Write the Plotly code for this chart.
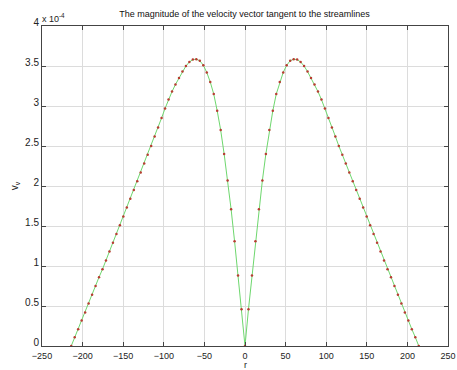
import plotly.graph_objects as go

# radial positions (r) of the sampled points
r = [-214.0, -209.72, -205.44, -201.16, -196.88, -192.6, -188.32, -184.04, -179.76, -175.48,
     -171.2, -166.92, -162.64, -158.36, -154.08, -149.8, -145.52, -141.24, -136.96, -132.68,
     -128.4, -124.12, -119.84, -115.56, -111.28, -107.0, -102.72, -98.44, -94.16, -89.88,
     -85.6, -81.32, -77.04, -72.76, -68.48, -64.2, -59.92, -55.64, -51.36, -47.08,
     -42.8, -38.52, -34.24, -29.96, -25.68, -21.4, -17.12, -12.84, -8.56, -4.28,
     0.0,
     4.28, 8.56, 12.84, 17.12, 21.4, 25.68, 29.96, 34.24, 38.52, 42.8,
     47.08, 51.36, 55.64, 59.92, 64.2, 68.48, 72.76, 77.04, 81.32, 85.6,
     89.88, 94.16, 98.44, 102.72, 107.0, 111.28, 115.56, 119.84, 124.12, 128.4,
     132.68, 136.96, 141.24, 145.52, 149.8, 154.08, 158.36, 162.64, 166.92, 171.2,
     175.48, 179.76, 184.04, 188.32, 192.6, 196.88, 201.16, 205.44, 209.72, 214.0]

# tangential velocity magnitude, in units of 1e-4
v = [0.0, 0.11, 0.21, 0.32, 0.42, 0.53, 0.64, 0.75, 0.86, 0.96,
     1.07, 1.18, 1.29, 1.40, 1.51, 1.62, 1.73, 1.84, 1.95, 2.06,
     2.17, 2.28, 2.39, 2.50, 2.62, 2.73, 2.85, 2.97, 3.08, 3.18,
     3.27, 3.35, 3.43, 3.50, 3.55, 3.58, 3.585, 3.565, 3.51, 3.42,
     3.30, 3.15, 2.94, 2.70, 2.40, 2.07, 1.71, 1.31, 0.88, 0.46,
     0.0,
     0.46, 0.88, 1.31, 1.71, 2.07, 2.40, 2.70, 2.94, 3.15, 3.30,
     3.42, 3.51, 3.565, 3.585, 3.58, 3.55, 3.50, 3.43, 3.35, 3.27,
     3.18, 3.08, 2.97, 2.85, 2.73, 2.62, 2.50, 2.39, 2.28, 2.17,
     2.06, 1.95, 1.84, 1.73, 1.62, 1.51, 1.40, 1.29, 1.18, 1.07,
     0.96, 0.86, 0.75, 0.64, 0.53, 0.42, 0.32, 0.21, 0.11, 0.0]

x_ticks = [-250, -200, -150, -100, -50, 0, 50, 100, 150, 200, 250]
y_ticks = [0, 0.5, 1, 1.5, 2, 2.5, 3, 3.5, 4]
y_tick_labels = ["0", "0.5", "1", "1.5", "2", "2.5", "3", "3.5", "4"]

FONT = "Liberation Sans, Arial, sans-serif"

fig = go.Figure()
fig.add_trace(go.Scatter(x=r, y=v, mode="lines",
                         line=dict(color="rgb(110,215,110)", width=1),
                         hoverinfo="skip", showlegend=False))
fig.add_trace(go.Scatter(x=r, y=v, mode="markers",
                         marker=dict(color="rgb(185,60,50)", size=2.5),
                         showlegend=False))

axis_common = dict(showline=True, linecolor="#444", linewidth=1, mirror="ticks",
                   ticks="inside", ticklen=4, tickcolor="#444", automargin=False,
                   showgrid=True, gridcolor="#dcdcdc", gridwidth=1, zeroline=False)

fig.update_xaxes(range=[-250, 250], tickvals=x_ticks,
                 tickfont=dict(family=FONT, size=9, color="#222"),
                 ticklabelstandoff=1,
                 **axis_common)
fig.update_yaxes(range=[0, 4], tickvals=y_ticks, ticktext=y_tick_labels,
                 tickfont=dict(family=FONT, size=10, color="#222"),
                 ticklabelshift=-4,
                 title=dict(text="v<sub>v</sub>", font=dict(family=FONT, size=10, color="#222"), standoff=4),
                 **axis_common)

fig.update_layout(
    width=457, height=370,
    margin=dict(l=42, r=9, t=26, b=24),
    paper_bgcolor="white", plot_bgcolor="white",
    title=dict(text="The magnitude of the velocity vector tangent to the streamlines",
               font=dict(family=FONT, size=9, color="#111"),
               x=0.535, xanchor="center", y=1 - 14 / 370, yanchor="middle"),
    annotations=[
        dict(text="x 10<sup>-4</sup>", xref="paper", yref="paper",
             x=-0.005, y=1.0, xanchor="left", yanchor="bottom",
             showarrow=False, font=dict(family=FONT, size=9, color="#222")),
        dict(text="r", xref="x", yref="paper", x=0, y=-0.0815,
             xanchor="center", yanchor="bottom", showarrow=False,
             font=dict(family=FONT, size=9, color="#222")),
    ],
)

fig.write_html("out.html")
